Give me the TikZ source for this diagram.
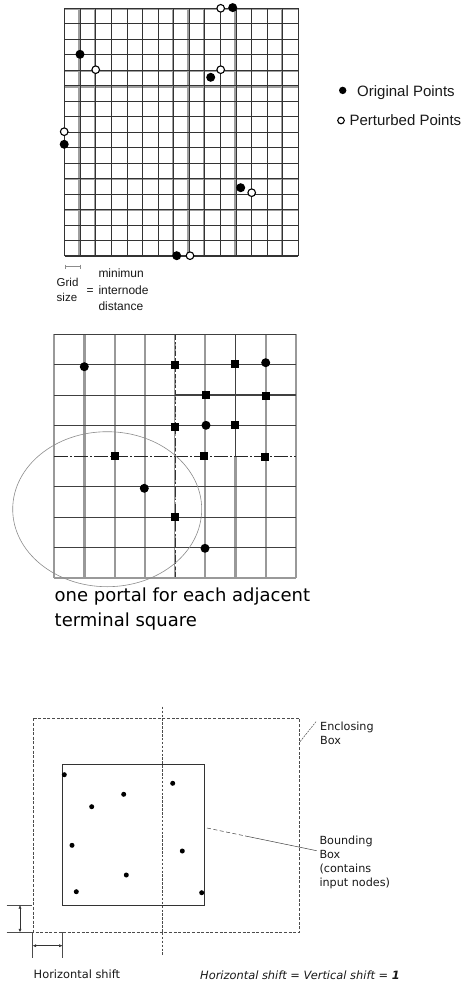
\documentclass[tikz,border=0pt]{standalone}
\usepackage{fontspec}
\setmainfont{DejaVu Sans}
\newfontfamily\arialf{Liberation Sans}
\usetikzlibrary{arrows.meta}
\tikzset{
  gthin/.style={draw=black!80,line width=0.7pt},
  gthick/.style={draw=black!80,line width=1.4pt},
  gband/.style={draw=black!38,line width=1.8pt},
  fdot/.style={circle,fill=black,inner sep=0pt,minimum size=9pt},
  odot/.style={circle,draw=black,fill=white,line width=1.1pt,inner sep=0pt,minimum size=7.6pt},
  msq/.style={rectangle,fill=black,inner sep=0pt,minimum size=8pt},
  mdot/.style={circle,fill=black,inner sep=0pt,minimum size=9pt},
  mband/.style={draw=black!40,line width=2.2pt},
  mthin/.style={draw=black!75,line width=0.8pt},
  bdot/.style={circle,fill=black,inner sep=0pt,minimum size=5pt},
  lbl/.style={inner sep=0pt,anchor=base west,text=black!90},
  shiftarr/.style={{Latex[length=3.5pt,width=3pt]}-{Latex[length=3.5pt,width=3pt]},draw=black!80,line width=0.5pt}
}
\begin{document}
\begin{tikzpicture}[x=1pt,y=-1pt]
\useasboundingbox[fill=white] (0,0) rectangle (475,985);
% ---------------- top grid ----------------
\foreach \i in {1,2,7,8,9,11,14}
  \draw[gband] ({64.7+15.57*\i-1.1},8.3) -- ({64.7+15.57*\i-1.1},256);
\foreach \j in {0,4,5,11,13}
  \draw[gband] (64.7,{8.3+15.48*\j+1.0}) -- (298.3,{8.3+15.48*\j+1.0});
\foreach \i in {0,...,15}
  \draw[gthin] ({64.7+15.57*\i},8.3) -- ({64.7+15.57*\i},256);
\foreach \j in {0,...,16}
  \draw[gthin] (64.7,{8.3+15.48*\j}) -- (298.3,{8.3+15.48*\j});
\foreach \j in {2,7,16}
  \draw[gthick] (64.7,{8.3+15.48*\j}) -- (298.3,{8.3+15.48*\j});
\draw[gthick] (220.4,8.3) -- (220.4,256);
% points
\node[fdot] (a1) at (80,54.3) {};
\node[odot] (b1) at (95.7,69.7) {};
\node[odot] (b2) at (220.7,8.3) {};
\node[fdot] (a2) at (232.7,7.6) {};
\node[fdot] (a3) at (210.7,77.3) {};
\node[odot] (b3) at (220.7,69.7) {};
\node[odot] (b4) at (64.2,131.7) {};
\node[fdot] (a4) at (64.2,144.3) {};
\node[fdot] (a5) at (240.7,187.7) {};
\node[odot] (b5) at (251.7,192.7) {};
\node[fdot] (a6) at (176.7,255.7) {};
\node[odot] (b6) at (190,255.7) {};
% grid size note
\coordinate (gs1) at (65,266.7);
\coordinate (gs2) at (80,266.7);
\draw[black!45,line width=0.7pt] (gs1) -- (gs2);
\draw[black!45,line width=0.7pt] (65,264.7) -- (65,268.7) (80,264.7) -- (80,268.7);
\node[lbl,font=\arialf\fontsize{11.5}{12}\selectfont] (tgrid) at (56.5,286.7) {Grid};
\node[lbl,font=\arialf\fontsize{11.5}{12}\selectfont] (tsize) at (56.5,301.7) {size};
\node[lbl,font=\arialf\fontsize{12}{12}\selectfont] (teq) at (86.5,294) {=};
\node[lbl,font=\arialf\fontsize{12}{12}\selectfont] (tmin) at (98.3,277.3) {minimun};
\node[lbl,font=\arialf\fontsize{12}{12}\selectfont] (tint) at (98.3,294.3) {internode};
\node[lbl,font=\arialf\fontsize{12}{12}\selectfont] (tdist) at (98.3,310) {distance};
% legend
\node[fdot,minimum size=7.4pt] (lg1) at (342.7,90.4) {};
\node[lbl,font=\arialf\fontsize{15}{16}\selectfont] (tlg1) at (357,96.2) {Original Points};
\node[odot,minimum size=6.6pt] (lg2) at (341,120.5) {};
\node[lbl,font=\arialf\fontsize{15}{16}\selectfont] (tlg2) at (349.3,125.8) {Perturbed Points};
% ---------------- middle grid ----------------
\foreach \i in {0,1,2,3,5,7,8}
  \draw[mband] ({54.3+30.2*\i},334) -- ({54.3+30.2*\i},578.3);
\draw[mband] (235.5,456) -- (235.5,578.3);
\draw[mband] (175.1,334) -- (175.1,578.3);
\draw[draw=black!80,line width=0.9pt,dash pattern=on 10pt off 2pt on 3pt off 2pt] (175.1,334) -- (175.1,578.3);
\draw[draw=white,line width=0.9pt,dash pattern=on 2pt off 14pt] (175.1,340) -- (175.1,578.3);
\draw[mthin,line width=1.1pt] (235.5,334) -- (235.5,456);
\foreach \j in {0,1,3,5,6,7}
  \draw[mthin] (54.3,{334+30.54*\j}) -- (296,{334+30.54*\j});
\draw[mthin] (54.3,395.1) -- (175.1,395.1);
\draw[mthin,line width=1.3pt] (175.1,395.1) -- (296,395.1);
\draw[draw=black!85,line width=1.3pt,dash pattern=on 14pt off 2pt on 2pt off 2pt] (54.3,456.2) -- (296,456.2);
\draw[mband] (54.3,578.3) -- (296,578.3);
% ellipse
\draw[draw=black!45,line width=0.6pt] (107.2,509.2) ellipse [x radius=94.5,y radius=77.5];
% points
\node[mdot] (m1) at (84.3,366.7) {};
\node[msq] (m2) at (175,365) {};
\node[msq] (m3) at (235,364.3) {};
\node[mdot] (m4) at (265.7,362.7) {};
\node[msq] (m5) at (206,395) {};
\node[msq] (m6) at (265.7,395.7) {};
\node[msq] (m7) at (175,426.7) {};
\node[mdot] (m8) at (206,425.3) {};
\node[msq] (m9) at (235,425.3) {};
\node[msq] (m10) at (115,455.6) {};
\node[msq] (m11) at (204,456) {};
\node[msq] (m12) at (265,457.3) {};
\node[mdot] (m13) at (144.3,488.3) {};
\node[msq] (m14) at (175,517.3) {};
\node[mdot] (m15) at (205,548.3) {};
\node[lbl,text=black,font=\fontsize{18}{24.5}\selectfont,align=left] (tportal) at (54.5,626.2)
  {one portal for each adjacent\\terminal square};
% ---------------- bottom diagram ----------------
\draw[draw=black!70,line width=0.8pt,dash pattern=on 3pt off 1.6pt] (33.3,718.3) rectangle (299.3,932.3);
\coordinate (encl) at (300,741.7);
\draw[draw=black!80,line width=0.7pt] (62.3,764) rectangle (204,905);
\coordinate (bbox) at (207,828);
\draw[draw=black!70,line width=0.8pt,dash pattern=on 2.5pt off 1.4pt] (162.3,706.7) -- (162.3,955);
\node[bdot] (n1) at (64.3,774.7) {};
\node[bdot] (n2) at (172.7,783.3) {};
\node[bdot] (n3) at (123.7,794.3) {};
\node[bdot] (n4) at (91.7,806.7) {};
\node[bdot] (n5) at (72,845.3) {};
\node[bdot] (n6) at (182.3,851) {};
\node[bdot] (n7) at (126.3,875) {};
\node[bdot] (n8) at (76.3,891.7) {};
\node[bdot] (n9) at (201.7,892.7) {};
\node[lbl,font=\fontsize{11.2}{14}\selectfont,align=left] (tencl) at (320,744) {Enclosing\\Box};
\coordinate (enclend) at (316,721.7);
\draw[draw=black!75,line width=0.5pt,dash pattern=on 2pt off 1pt] (encl) -- (enclend);
\node[lbl,font=\fontsize{11.2}{14.1}\selectfont,align=left] (tbbox) at (319.3,886.3) {Bounding\\Box\\(contains\\input nodes)};
\coordinate (bbend) at (316.7,850.7);
\coordinate (bbmid) at (247,836.3);
\draw[draw=black!75,line width=0.5pt,dash pattern=on 4pt off 2.5pt] (bbox) -- (bbmid);
\draw[draw=black!75,line width=0.5pt] (bbmid) -- (bbend);
% shifts
\coordinate (vs1) at (20,905);
\coordinate (vs2) at (20,932.3);
\draw[draw=black!70,line width=0.5pt] (6.7,905) -- (31.7,905) (6.7,932.3) -- (31.7,932.3);
\draw[shiftarr] (vs1) -- (vs2);
\coordinate (hs1) at (32.6,945.7);
\coordinate (hs2) at (62.6,945.7);
\draw[draw=black!70,line width=0.5pt] (32.6,932.3) -- (32.6,958.3) (62.6,932.3) -- (62.6,958.3);
\draw[shiftarr] (hs1) -- (hs2);
\node[lbl,font=\fontsize{11.4}{14}\selectfont] (thshift) at (33.5,978.8) {Horizontal shift};
\node[lbl,font=\fontsize{11.4}{14}\selectfont\itshape] (teqs) at (200,979.5) {Horizontal shift = Vertical shift = \textbf{1}};
\end{tikzpicture}
\end{document}
